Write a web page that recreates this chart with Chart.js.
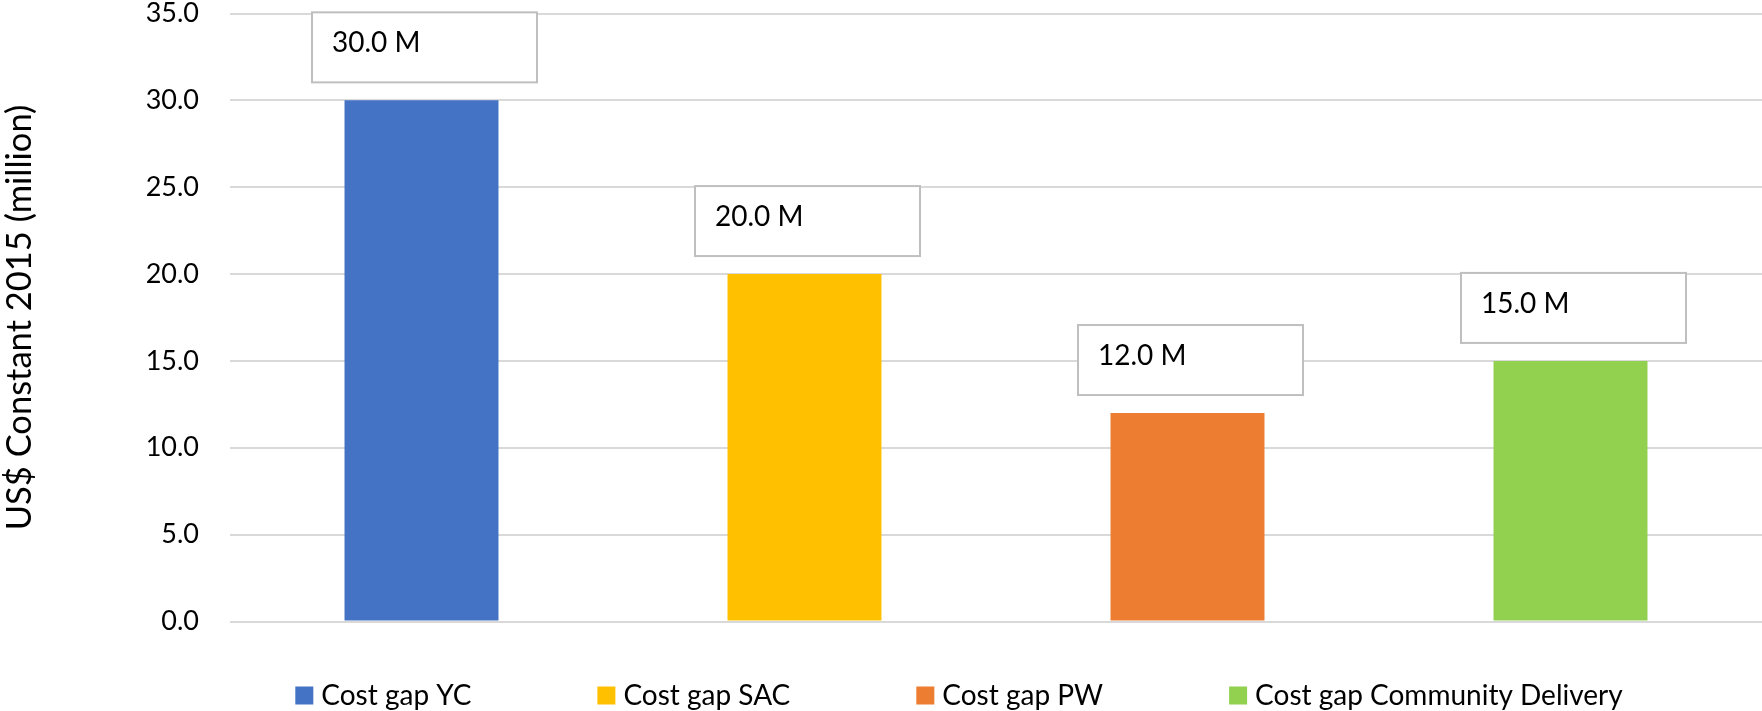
<!DOCTYPE html>
<html>
<head>
<meta charset="utf-8">
<title>Cost gap by delivery channel</title>
<script src="https://cdn.jsdelivr.net/npm/chart.js@4/dist/chart.umd.min.js"></script>
<style>
  html, body { margin: 0; padding: 0; background: #ffffff; overflow: hidden; }
  #wrap { width: 1762px; height: 711px; position: relative; }
  canvas { display: block; }
</style>
</head>
<body>
<div id="wrap"><canvas id="chart" width="1762" height="711"></canvas></div>
<script>
// Cost gap per delivery channel, US$ constant 2015, in millions
const categories = ['Cost gap YC', 'Cost gap SAC', 'Cost gap PW', 'Cost gap Community Delivery'];
const values = [30.0, 20.0, 12.0, 15.0];
const barColors = ['#4472C4', '#FFC000', '#ED7D31', '#92D050'];
const yTicks = [0, 5, 10, 15, 20, 25, 30, 35];
const yAxisTitle = 'US$ Constant 2015 (million)';

const FONT = 'Lato, "Open Sans", "DejaVu Sans", sans-serif';

// Boxed value labels sitting above each bar
const valueBoxes = {
  id: 'valueBoxes',
  afterDatasetsDraw(chart, args, opts) {
    const ctx = chart.ctx;
    const ds = chart.data.datasets[0];
    const meta = chart.getDatasetMeta(0);
    ctx.save();
    meta.data.forEach((bar, i) => {
      const v = ds.data[i];
      const left = bar.x - opts.width / 2 + opts.dx;
      const top = bar.y - opts.gap - opts.height;
      ctx.fillStyle = '#ffffff';
      ctx.fillRect(left, top, opts.width, opts.height);
      ctx.strokeStyle = opts.borderColor;
      ctx.lineWidth = opts.borderWidth;
      ctx.strokeRect(left, top, opts.width, opts.height);
      ctx.fillStyle = opts.color;
      ctx.font = opts.font;
      ctx.textAlign = 'left';
      ctx.textBaseline = 'middle';
      ctx.fillText(v.toFixed(1) + ' M', left + opts.textInset, top + opts.textMiddle);
    });
    ctx.restore();
  }
};

// Single-row legend of square swatches below the plot
const swatchLegend = {
  id: 'swatchLegend',
  afterDraw(chart, args, opts) {
    const ctx = chart.ctx;
    const ds = chart.data.datasets[0];
    ctx.save();
    ctx.font = opts.font;
    const widths = chart.data.labels.map(l => ctx.measureText(l).width);
    const total = widths.reduce((s, w) => s + opts.box + opts.textGap + w, 0) + opts.gap * (widths.length - 1);
    let x = opts.center - total / 2;
    chart.data.labels.forEach((label, i) => {
      ctx.fillStyle = ds.backgroundColor[i];
      ctx.fillRect(x, opts.y - opts.box / 2, opts.box, opts.box);
      ctx.fillStyle = opts.color;
      ctx.textAlign = 'left';
      ctx.textBaseline = 'middle';
      ctx.fillText(label, x + opts.box + opts.textGap, opts.y);
      x += opts.box + opts.textGap + widths[i] + opts.gap;
    });
    ctx.restore();
  }
};

function draw() {
  new Chart(document.getElementById('chart'), {
    type: 'bar',
    data: {
      labels: categories,
      datasets: [{
        data: values,
        backgroundColor: barColors,
        borderWidth: 0,
        categoryPercentage: 1,
        barPercentage: 0.402
      }]
    },
    plugins: [valueBoxes, swatchLegend],
    options: {
      responsive: false,
      devicePixelRatio: 1,
      animation: false,
      layout: { padding: { top: 13.5, bottom: 89.5, left: 0, right: 0 } },
      plugins: {
        legend: { display: false },
        tooltip: { enabled: false },
        valueBoxes: {
          width: 225, height: 70, gap: 18, dx: 3,
          borderColor: '#bfbfbf', borderWidth: 2,
          color: '#000000', font: '28px ' + FONT,
          textInset: 20, textMiddle: 31
        },
        swatchLegend: {
          center: 959, y: 695.5, box: 18, textGap: 8, gap: 126,
          color: '#000000', font: '28px ' + FONT
        }
      },
      scales: {
        x: {
          type: 'category',
          display: false
        },
        y: {
          min: 0,
          max: 35,
          afterFit(scale) { scale.width = 230; },
          afterBuildTicks(scale) { scale.ticks = yTicks.map(v => ({ value: v })); },
          border: { display: false },
          grid: {
            color: '#d9d9d9',
            lineWidth: 2,
            drawTicks: true,
            tickLength: 31,
            tickColor: 'rgba(0,0,0,0)'
          },
          ticks: {
            padding: 0,
            color: '#000000',
            font: { family: FONT, size: 27, lineHeight: 1 },
            callback: v => Number(v).toFixed(1)
          },
          title: {
            display: true,
            text: yAxisTitle,
            color: '#000000',
            padding: 0,
            font: { family: FONT, size: 34.5, lineHeight: 1.15 }
          }
        }
      }
    }
  });
}

if (document.fonts && document.fonts.load) {
  Promise.all([document.fonts.load('28px Lato'), document.fonts.load('34px Lato')])
    .then(draw, draw);
} else {
  draw();
}
</script>
</body>
</html>
